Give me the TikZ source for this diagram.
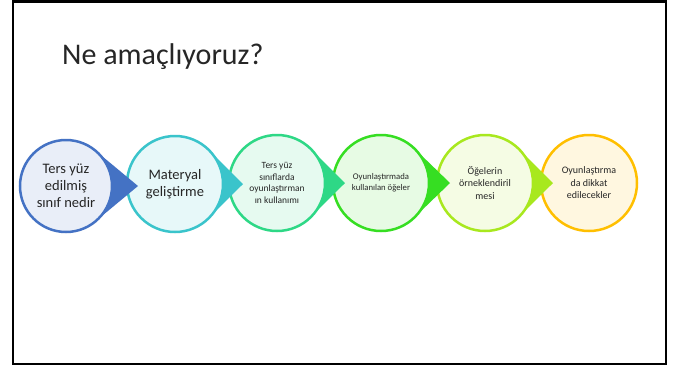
\documentclass[tikz,border=0pt]{standalone}
\usepackage{fontspec}
\setmainfont{Carlito}
\usetikzlibrary{calc}
\definecolor{cA}{HTML}{4472C4}
\definecolor{cB}{HTML}{3AC4CB}
\definecolor{cC}{HTML}{2ED886}
\definecolor{cD}{HTML}{36DE22}
\definecolor{cE}{HTML}{A8E81E}
\definecolor{cF}{HTML}{FFBF00}
\definecolor{txt}{HTML}{262626}
\begin{document}
\begin{tikzpicture}[x=1pt,y=-1pt,
  drop/.style={circle, draw=#1, fill=#1!12, line width=2.5pt, inner sep=0pt, align=center, text=txt, minimum size=96pt},
  big/.style={font=\fontsize{14.5}{17}\selectfont},
  small/.style={font=\fontsize{9.5}{11.5}\selectfont}]
\useasboundingbox (0,0) rectangle (673,368);
\fill[white] (0,0) rectangle (673,368);
\draw[line width=2.5pt] (13,1.5) rectangle (666,364);
\node[anchor=base west, inner sep=0pt, text=txt, font=\fontsize{30}{36}\selectfont] (title) at (62,64) {Ne amaçlıyoruz?};

% shape 6
\node[drop=cF, small, font=\fontsize{10}{12.5}\selectfont] (s6) at (589,183) {Oyunlaştırma\\da dikkat\\edilecekler};
% shape 5
\node[drop=cE, small, font=\fontsize{10}{12.5}\selectfont] (s5) at (485,183) {Öğelerin\\örneklendiril\\mesi};
\coordinate (t5) at (553,183);
\fill[cE] (t5) -- ($(s5.center)+(-45:48)$) arc[start angle=-45,end angle=45,radius=48] -- cycle;
% shape 4
\node[drop=cD, font=\fontsize{8.7}{11}\selectfont] (s4) at (381,183) {Oyunlaştırmada\\kullanılan öğeler};
\coordinate (t4) at (450,183);
\fill[cD] (t4) -- ($(s4.center)+(-45:48)$) arc[start angle=-45,end angle=45,radius=48] -- cycle;
% shape 3
\node[drop=cC, small] (s3) at (277,183) {Ters yüz\\sınıflarda\\oyunlaştırman\\ın kullanımı};
\coordinate (t3) at (345,183);
\fill[cC] (t3) -- ($(s3.center)+(-45:48)$) arc[start angle=-45,end angle=45,radius=48] -- cycle;
% shape 2
\node[drop=cB, big] (s2) at (175,184) {Materyal\\geliştirme};
\coordinate (t2) at (243,184);
\fill[cB] (t2) -- ($(s2.center)+(-45:48)$) arc[start angle=-45,end angle=45,radius=48] -- cycle;
% shape 1
\node[drop=cA, big, minimum size=92pt] (s1) at (66,186) {Ters yüz\\edilmiş\\sınıf nedir};
\coordinate (t1) at (138,186);
\fill[cA] (t1) -- ($(s1.center)+(-50:46)$) arc[start angle=-50,end angle=50,radius=46] -- cycle;
\end{tikzpicture}
\end{document}
